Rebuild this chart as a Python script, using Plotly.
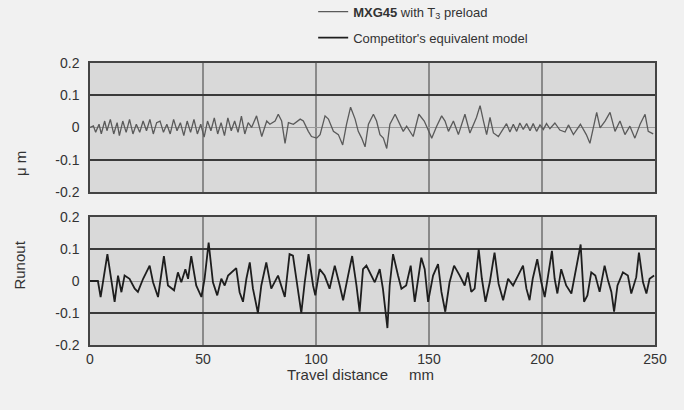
import plotly.graph_objects as go

# ---- data ----
mxg_x = [0, 1.5, 2.5, 4, 5, 6.5, 7.5, 9, 10.5, 12, 13, 14.5, 16, 17.5, 19, 20.5, 22, 23.5, 25, 26.5,
         28, 29.5, 31, 32.5, 34, 35.5, 37, 38.5, 40, 41.5, 43, 44.5, 46, 47.5, 49, 50.5, 52, 53.5, 55,
         56.5, 58, 59.5, 61, 62.5, 64, 65.5, 67, 68.5, 70, 71.5, 73.7, 76, 78.2, 79.6, 81.9, 83.3, 84.8,
         86.3, 87.8, 90.0, 93.0, 94.4, 96.6, 98.0, 100.3, 101.8, 104.0, 105.5, 107.7, 109.9, 111.8,
         113.5, 115.3, 117.3, 118.7, 120.2, 121.7, 123.2, 125.4, 126.8, 128.3, 129.8, 131.3, 132.7,
         135.0, 136.4, 138.6, 140.1, 143.0, 145.5, 147.9, 149.9, 151.2, 153.4, 155.6, 157.1, 158.6,
         160.8, 163.0, 165.9, 168.1, 171.0, 172.6, 174.1, 175.5, 177.0, 178.5, 180.7, 182.9, 184.3,
         185.8, 187.3, 188.8, 190.2, 191.7, 193.2, 194.7, 196.1, 197.6, 199.1, 200.6, 202.0, 203.5,
         205.7, 207.9, 210.2, 211.7, 213.9, 217.0, 219.6, 221.2, 222.7, 224.2, 225.7, 227.9, 230.1,
         232.3, 234.5, 236.7, 238.9, 241.1, 243.4, 245.6, 247.0, 249.2, 250]
mxg_y = [0.0, 0.005, -0.015, 0.01, -0.02, 0.02, -0.01, 0.025, -0.02, 0.015, -0.025, 0.02, -0.015, 0.025,
         -0.02, 0.01, -0.015, 0.02, -0.01, 0.025, -0.02, 0.015, 0.02, -0.015, 0.01, -0.02, 0.025, -0.01,
         0.015, -0.025, 0.02, -0.015, 0.025, -0.02, 0.01, -0.03, 0.02, -0.01, 0.03, -0.02, 0.015, -0.025,
         0.03, -0.01, 0.02, -0.015, 0.035, -0.02, 0.015, 0.0, 0.036, -0.028, 0.02, 0.01, 0.02, 0.041,
         0.02, -0.049, 0.015, 0.01, 0.026, 0.02, -0.012, -0.028, -0.033, -0.022, 0.036, 0.026, -0.012,
         -0.022, -0.054, 0.01, 0.063, 0.026, -0.012, -0.033, -0.06, 0.01, 0.041, 0.02, -0.022, -0.033,
         -0.065, 0.01, 0.041, 0.02, -0.012, 0.004, -0.028, 0.041, 0.02, -0.012, -0.033, 0.004, 0.036,
         0.02, -0.012, 0.02, -0.022, 0.041, -0.017, 0.031, 0.068, 0.02, -0.022, 0.031, -0.017, -0.028,
         -0.001, 0.012, -0.014, 0.01, -0.012, 0.014, -0.006, 0.012, -0.01, 0.012, -0.012, 0.008, -0.006,
         0.012, -0.004, 0.014, -0.008, -0.014, 0.008, -0.022, 0.01, -0.022, -0.049, 0.004, 0.047, -0.001,
         0.02, 0.047, -0.012, 0.02, -0.022, 0.004, -0.033, 0.01, 0.041, -0.012, -0.02]

comp_x = [0, 3.5, 4.7, 7.7, 10.9, 12.4, 13.9, 15.3, 17.5, 19.8, 21.2, 23.5, 26.4, 27.9, 30.1, 32.7,
          34.5, 37.2, 38.9, 40.4, 42.2, 43.4, 44.8, 47.0, 49.3, 50.7, 52.5, 54.4, 56.3, 58.1, 59.6,
          61.1, 64.7, 66.2, 67.7, 69.2, 70.7, 72.1, 74.3, 75.8, 78.0, 80.2, 83.2, 84.7, 86.2, 88.3,
          89.8, 91.3, 93.5, 95.0, 96.7, 98.7, 99.7, 101.6, 103.8, 106.0, 108.3, 110.5, 112.0, 114.2,
          116.0, 117.9, 119.3, 120.8, 122.3, 126.0, 128.2, 129.6, 131.6, 132.6, 134.1, 136.3, 137.8,
          139.9, 141.9, 143.7, 145.1, 146.6, 148.1, 149.6, 151.8, 154.0, 155.5, 157.2, 159.1, 161.1,
          163.6, 165.8, 167.2, 168.7, 170.2, 172.0, 173.4, 175.0, 176.9, 179.0, 180.8, 182.8, 185.0,
          187.2, 189.4, 191.6, 193.1, 194.5, 195.9, 197.9, 199.7, 201.2, 202.7, 204.4, 205.6, 206.8,
          208.5, 210.7, 213.0, 215.2, 217.1, 218.6, 220.1, 221.8, 223.6, 225.5, 227.7, 229.2, 230.7,
          231.9, 233.4, 235.8, 238.0, 239.5, 241.7, 242.9, 244.7, 246.2, 247.6, 249.6]
comp_y = [0.0, 0.0, -0.05, 0.084, -0.065, 0.017, -0.035, 0.017, 0.007, -0.024, -0.034, 0.007, 0.048,
          -0.004, -0.05, 0.078, -0.014, -0.029, 0.027, -0.004, 0.037, 0.007, 0.078, -0.014, -0.05, 0.007,
          0.12, -0.004, -0.045, 0.007, -0.014, 0.017, 0.04, -0.035, -0.065, 0.007, 0.058, -0.024, -0.1,
          -0.014, 0.058, -0.024, 0.017, -0.014, -0.05, 0.084, 0.079, 0.007, -0.1, -0.004, 0.084, -0.014,
          -0.045, 0.037, 0.017, -0.024, 0.048, -0.014, -0.06, 0.017, 0.078, -0.014, -0.096, 0.037, 0.048,
          -0.004, 0.037, -0.024, -0.147, -0.014, 0.084, 0.017, -0.024, -0.014, 0.048, -0.065, 0.007,
          0.073, 0.037, -0.065, 0.017, 0.053, -0.034, -0.096, -0.004, 0.048, 0.017, -0.014, 0.027,
          -0.034, -0.024, 0.099, 0.007, -0.065, -0.004, 0.089, -0.009, -0.06, 0.007, -0.014, 0.017,
          0.048, -0.024, -0.06, 0.007, 0.068, -0.004, -0.05, 0.017, 0.094, 0.007, -0.039, 0.037, -0.014,
          -0.039, 0.037, 0.114, -0.065, -0.045, 0.027, 0.017, -0.034, 0.048, 0.002, -0.034, -0.096,
          -0.014, 0.027, 0.017, -0.039, 0.012, 0.089, -0.004, -0.039, 0.007, 0.017]

y_ticks = [-0.2, -0.1, 0, 0.1, 0.2]
y_ticktext = ["-0.2", "-0.1", "0", "0.1", "0.2"]
x_ticks = [0, 50, 100, 150, 200, 250]

FONT = "Liberation Sans, Arial, sans-serif"
TXT = "#333333"

fig = go.Figure()
fig.add_trace(go.Scatter(x=mxg_x, y=mxg_y, mode="lines", xaxis="x2", yaxis="y2",
                         line=dict(color="#5a5a5a", width=1.3),
                         name="<b>MXG45</b> with T<sub>3</sub> preload", legendgroup="a"))
fig.add_trace(go.Scatter(x=comp_x, y=comp_y, mode="lines", xaxis="x", yaxis="y",
                         line=dict(color="#1e1e1e", width=1.8),
                         name="Competitor's equivalent model", legendgroup="b"))

yax = dict(range=[-0.2, 0.2], tickvals=y_ticks, ticktext=y_ticktext, showgrid=True,
           gridcolor="#3a3a3a", gridwidth=1.5, zeroline=True, zerolinecolor="#9a9a9a",
           zerolinewidth=1, showline=True, linecolor="#444444", linewidth=1.5, mirror=True,
           ticks="", ticklabelstandoff=6,
           tickfont=dict(size=14, color=TXT, family=FONT), fixedrange=True)
xax = dict(range=[0, 250], tickvals=x_ticks, showgrid=True, gridcolor="#8a8a8a", gridwidth=1.5,
           zeroline=False, showline=True, linecolor="#444444", linewidth=1.5, mirror=True,
           ticks="", tickfont=dict(size=14, color=TXT, family=FONT))

fig.update_layout(
    width=684, height=410,
    margin=dict(l=90, r=29, t=63, b=65, autoexpand=False),
    paper_bgcolor="#f1f1f1", plot_bgcolor="#d9d9d9",
    font=dict(family=FONT, color=TXT, size=13),
    xaxis=dict(xax, domain=[0, 1], anchor="y"),
    yaxis=dict(yax, domain=[0, 0.4539], anchor="x"),
    xaxis2=dict(xax, domain=[0, 1], anchor="y2", matches="x", showticklabels=False),
    yaxis2=dict(yax, domain=[0.5426, 1], anchor="x2"),
    showlegend=True,
    legend=dict(x=0.395, y=1.235, xanchor="left", yanchor="top", bgcolor="rgba(0,0,0,0)",
                font=dict(size=13, color=TXT, family=FONT), tracegroupgap=6,
                itemwidth=30),
    annotations=[
        dict(text="Runout", x=-0.124, y=0.285, xref="paper", yref="paper", textangle=-90,
             xanchor="center", yanchor="middle",
             showarrow=False, font=dict(size=15, color=TXT, family=FONT)),
        dict(text="μ m", x=-0.124, y=0.645, xref="paper", yref="paper", textangle=-90,
             xanchor="center", yanchor="middle",
             showarrow=False, font=dict(size=15, color=TXT, family=FONT)),
        dict(text="Travel distance&nbsp;&nbsp;&nbsp;&nbsp;&nbsp;mm", x=0.478, y=-0.106, xref="paper",
             yref="paper", xanchor="center", yanchor="middle", showarrow=False,
             font=dict(size=15, color=TXT, family=FONT)),
    ],
)

fig.write_html("out.html", config={"displayModeBar": False},
               post_script="document.body.style.margin='0';")
